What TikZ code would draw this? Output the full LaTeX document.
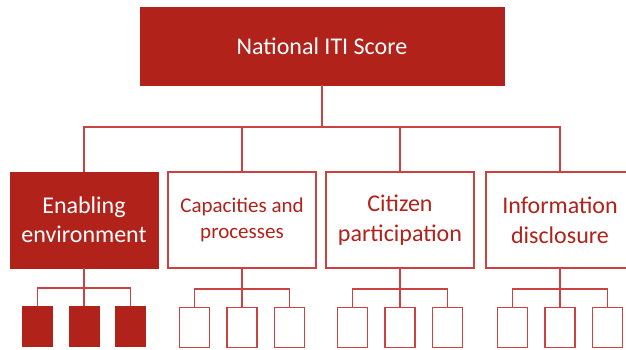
\documentclass[tikz,border=0pt]{standalone}
\usepackage{fontspec}
\setmainfont{Carlito}
\usepackage{tikz}
\usetikzlibrary{positioning}
\definecolor{itired}{HTML}{B0221A}
\definecolor{itiline}{HTML}{C94440}
\tikzstyle{top} = [rectangle, minimum width=364pt, minimum height=78pt, inner sep=0pt, fill=itired, draw=itired, text=white, font=\fontsize{24}{28}\selectfont]
\tikzstyle{pillarfill} = [rectangle, minimum width=148pt, minimum height=96pt, inner sep=0pt, align=center, fill=itired, draw=itired, text=white, font=\fontsize{24}{29}\selectfont]
\tikzstyle{pillar} = [rectangle, minimum width=148pt, minimum height=96pt, inner sep=0pt, align=center, fill=white, draw=itiline, line width=1.5pt, text=itired, font=\fontsize{24}{30}\selectfont]
\tikzstyle{leaffill} = [rectangle, minimum width=30pt, minimum height=40pt, inner sep=0pt, fill=itired, draw=itired]
\tikzstyle{leaf} = [rectangle, minimum width=30pt, minimum height=40pt, inner sep=0pt, fill=white, draw=itiline, line width=1.5pt]
\tikzstyle{link} = [itiline, line width=1.5pt]

\begin{document}
\begin{tikzpicture}[x=1pt, y=-1pt]

      \useasboundingbox (0,0) rectangle (626,350);

      % Nodes
      \node (score) [top] at (322,46) {National ITI Score};

      \node (enab) [pillarfill] at (84,220) {Enabling\\environment};
      \node (capa) [pillar, font=\fontsize{21}{26}\selectfont] at (242,220) {Capacities and\\processes};
      \node (citi) [pillar] at (400,220) {Citizen\\participation};
      \node (info) [pillar] at (560,220) {Information\\disclosure};

      \node (enab2) [leaffill, below=38pt of enab] {};
      \node (enab1) [leaffill, left=16pt of enab2] {};
      \node (enab3) [leaffill, right=16pt of enab2] {};

      \node (capa2) [leaf, below=38pt of capa] {};
      \node (capa1) [leaf, left=16pt of capa2] {};
      \node (capa3) [leaf, right=16pt of capa2] {};

      \node (citi2) [leaf, below=38pt of citi] {};
      \node (citi1) [leaf, left=16pt of citi2] {};
      \node (citi3) [leaf, right=16pt of citi2] {};

      \node (info2) [leaf, below=38pt of info] {};
      \node (info1) [leaf, left=16pt of info2] {};
      \node (info3) [leaf, right=16pt of info2] {};

      % Connectors
      \draw [link] (score.south) -- ++(0,42) -| (enab.north);
      \draw [link] (score.south) -- ++(0,42) -| (capa.north);
      \draw [link] (score.south) -- ++(0,42) -| (citi.north);
      \draw [link] (score.south) -- ++(0,42) -| (info.north);

      \draw [link] (enab.south) -- ++(0,20) -| (enab1.north);
      \draw [link] (enab.south) -- (enab2.north);
      \draw [link] (enab.south) -- ++(0,20) -| (enab3.north);

      \draw [link] (capa.south) -- ++(0,20) -| (capa1.north);
      \draw [link] (capa.south) -- (capa2.north);
      \draw [link] (capa.south) -- ++(0,20) -| (capa3.north);

      \draw [link] (citi.south) -- ++(0,20) -| (citi1.north);
      \draw [link] (citi.south) -- (citi2.north);
      \draw [link] (citi.south) -- ++(0,20) -| (citi3.north);

      \draw [link] (info.south) -- ++(0,20) -| (info1.north);
      \draw [link] (info.south) -- (info2.north);
      \draw [link] (info.south) -- ++(0,20) -| (info3.north);

    \end{tikzpicture}
\end{document}
